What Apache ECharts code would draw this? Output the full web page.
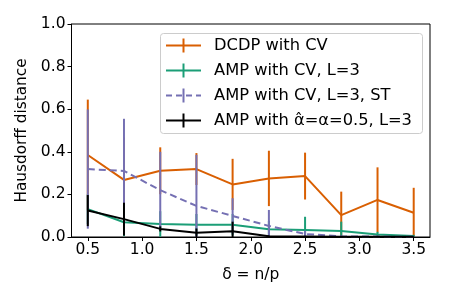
<!DOCTYPE html>
<html><head><meta charset="utf-8">
<script src="https://cdn.jsdelivr.net/npm/echarts@6/dist/echarts.min.js"></script>
<style>html,body{margin:0;padding:0;background:#fff}#c{width:449px;height:299px}</style>
</head><body><div id="c"></div>
<script>
const deltas = [0.5, 0.833, 1.167, 1.5, 1.833, 2.167, 2.5, 2.833, 3.167, 3.5];
const dcdp    = [0.385, 0.268, 0.311, 0.319, 0.247, 0.275, 0.286, 0.103, 0.174, 0.114];
const dcdpErr = [0.26, 0.2, 0.11, 0.075, 0.12, 0.13, 0.11, 0.11, 0.153, 0.117];
const ampCV    = [0.131, 0.069, 0.061, 0.058, 0.058, 0.036, 0.033, 0.028, 0.012, 0.005];
const ampCVErr = [0.07, 0.065, 0.06, 0.05, 0.05, 0.04, 0.062, 0.044, 0.012, 0.005];
const ampST    = [0.319, 0.31, 0.22, 0.146, 0.099, 0.052, 0.014, 0.003, 0.002, 0.001];
const ampSTErr = [0.28, 0.245, 0.18, 0.24, 0.083, 0.075, 0.015, 0.003, 0.002, 0.001];
const ampFix    = [0.124, 0.084, 0.038, 0.02, 0.027, 0.003, 0.002, 0.001, 0.001, 0.001];
const ampFixErr = [0.073, 0.077, 0.012, 0.02, 0.045, 0.003, 0.002, 0.001, 0.001, 0.001];
const xTicks = [0.5, 1.0, 1.5, 2.0, 2.5, 3.0, 3.5];
const yTicks = [0, 0.2, 0.4, 0.6, 0.8, 1.0];
const names = ['DCDP with CV', 'AMP with CV, L=3', 'AMP with CV, L=3, ST', 'AMP with \u03b1\u0302=\u03b1=0.5, L=3'];
const colors = ['#d95f02', '#1b9e77', '#7570b3', '#000000'];
const dashed = [false, false, true, false];
const vals = [dcdp, ampCV, ampST, ampFix];
const errs = [dcdpErr, ampCVErr, ampSTErr, ampFixErr];

const FONT = 'DejaVu Sans';
const series = [];
vals.forEach((v, i) => {
  series.push({
    type: 'line', name: names[i], z: 2 + i * 2,
    data: deltas.map((x, k) => [x, v[k]]),
    symbol: 'none',
    lineStyle: {color: colors[i], width: 2, type: dashed[i] ? [7, 4] : 'solid'},
    animation: false
  });
  series.push({
    type: 'custom', z: 3 + i * 2, clip: true,
    data: deltas.map((x, k) => [x, v[k] - errs[i][k], v[k] + errs[i][k]]),
    renderItem: (params, api) => {
      const p1 = api.coord([api.value(0), api.value(1)]);
      const p2 = api.coord([api.value(0), api.value(2)]);
      return {type: 'line', shape: {x1: p1[0], y1: p1[1], x2: p2[0], y2: p2[1]},
              style: {stroke: colors[i], lineWidth: 2}};
    },
    animation: false
  });
});

// legend drawn as graphics
const lg = [];
lg.push({type: 'rect', shape: {x: 160.5, y: 33.5, width: 262, height: 100, r: 3},
         style: {fill: 'rgba(255,255,255,0.8)', stroke: '#cccccc', lineWidth: 1}, z: 100});
names.forEach((n, i) => {
  const y = 45.5 + i * 25;
  lg.push({type: 'line', shape: {x1: 166, y1: y, x2: 201, y2: y},
           style: {stroke: colors[i], lineWidth: 2, lineDash: dashed[i] ? [6, 4] : null}, z: 101});
  lg.push({type: 'line', shape: {x1: 183.5, y1: y - 7, x2: 183.5, y2: y + 7},
           style: {stroke: colors[i], lineWidth: 2}, z: 101});
  lg.push({type: 'text', x: 214, y: y, style: {text: n, fill: '#000', font: '16.3px "' + FONT + '"',
           textVerticalAlign: 'middle', verticalAlign: 'middle'}, z: 101});
});

const chart = echarts.init(document.getElementById('c'), null, {renderer: 'canvas'});
chart.setOption({
  animation: false,
  grid: {left: 71.5, right: 19, top: 24, bottom: 62, show: true, borderColor: '#000', borderWidth: 1},
  xAxis: {
    type: 'value', min: 0.35, max: 3.65,
    name: '\u03b4 = n/p', nameLocation: 'middle', nameGap: 30,
    nameTextStyle: {fontFamily: FONT, fontSize: 15.5, color: '#000'},
    axisLine: {lineStyle: {color: '#000', width: 1}},
    axisTick: {show: true, length: 4, lineStyle: {color: '#000'}, customValues: xTicks},
    axisLabel: {fontFamily: FONT, fontSize: 15.5, color: '#000', margin: 5, customValues: xTicks,
                formatter: v => v.toFixed(1)},
    splitLine: {show: false}
  },
  yAxis: {
    type: 'value', min: 0, max: 1, interval: 0.2,
    name: 'Hausdorff distance', nameLocation: 'middle', nameGap: 38, nameRotate: 90,
    nameTextStyle: {fontFamily: FONT, fontSize: 15.3, color: '#000'},
    axisLine: {show: true, lineStyle: {color: '#000', width: 1}},
    axisTick: {show: true, length: 4, lineStyle: {color: '#000'}},
    axisLabel: {fontFamily: FONT, fontSize: 15.5, color: '#000', margin: 6, formatter: v => v.toFixed(1)},
    splitLine: {show: false}
  },
  series: series,
  graphic: lg
});
</script></body></html>
